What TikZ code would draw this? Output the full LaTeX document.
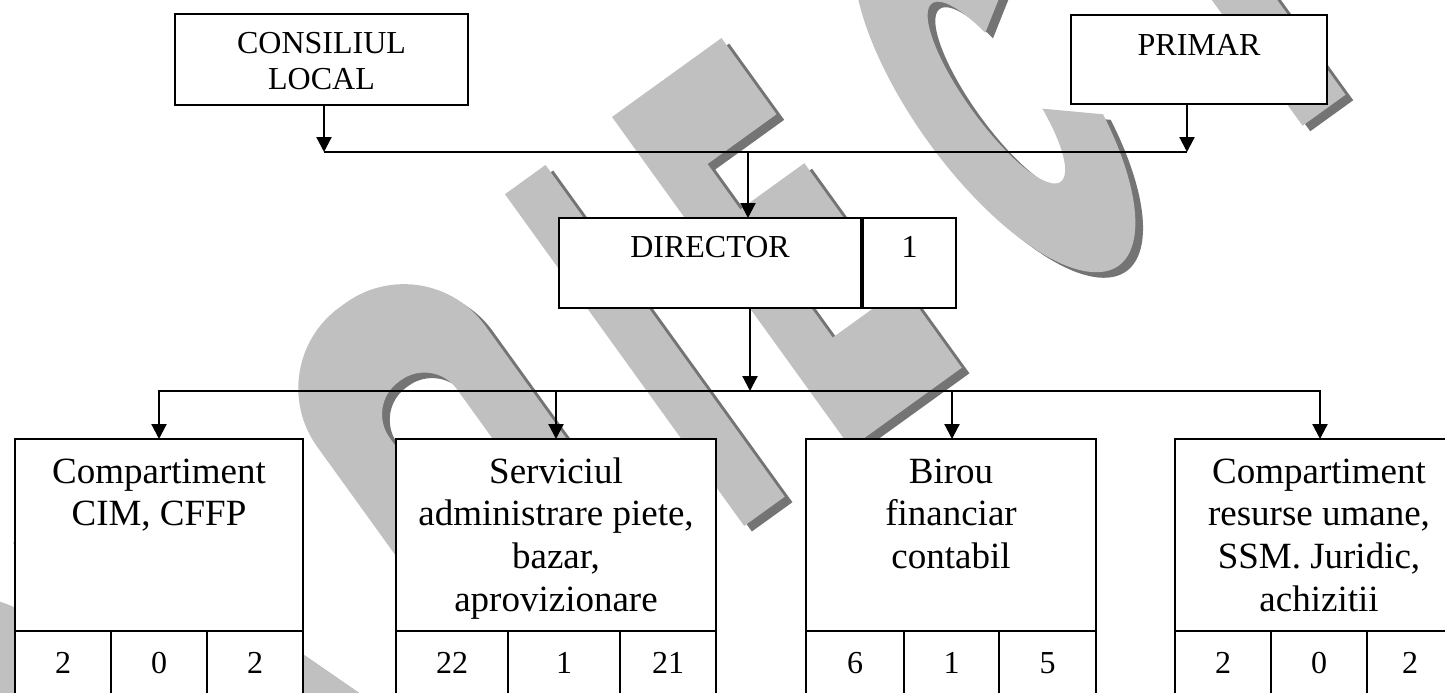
\documentclass[tikz,border=0pt]{standalone}
\usepackage{fontspec}
\setmainfont{Liberation Serif}
\usetikzlibrary{arrows.meta}
\definecolor{wmlight}{HTML}{C0C0C0}
\definecolor{wmdark}{HTML}{747474}
\newcommand\fsa{\fontsize{32}{36}\selectfont}
\newcommand\fsb{\fontsize{37}{42.7}\selectfont}
\newcommand\boxtext[2]{\parbox[t]{#1}{\centering #2}}
\newcommand\wmletters[1]{%
  \fill[#1] (-1010,-5) rectangle (-955,409);
  \fill[#1,even odd rule] [rounded corners=100pt] (-1010,-5) rectangle (-760,250) [rounded corners=30pt] (-955,88) rectangle (-840,160);
  \fill[#1] (-735,-5) rectangle (-680,409);
  \fill[#1,even odd rule] [rounded corners=90pt] (-735,-5) rectangle (-545,250) [rounded corners=30pt] (-680,88) rectangle (-600,160);
  \fill[#1] (-640,235) -- (-572,235) -- (-510,409) -- (-578,409) -- cycle;
  \fill[#1,even odd rule] [rounded corners=100pt] (-432,-5) rectangle (-225,413) [rounded corners=40pt] (-368,90) rectangle (-285,320);
  \fill[#1] (-132,0) rectangle (-82,409);
  \fill[#1] (0,0) -- (135,0) -- (135,94) -- (50,94) -- (50,150) -- (129,150) -- (129,245) -- (50,245) -- (50,308) -- (137,308) -- (137,408) -- (0,408) -- cycle;
  \fill[#1] (399.1,120.1) arc[start angle=-23.6,end angle=-337.8,x radius=82,y radius=212] -- (354,245) arc[start angle=21.3,end angle=330,x radius=30,y radius=110] -- cycle;
  \fill[#1] (470,-40) -- (700,-40) -- (700,92) -- (608,92) -- (608,411) -- (555,411) -- (555,92) -- (470,92) -- cycle;
}
\begin{document}
\begin{tikzpicture}[x=1pt,y=-1pt,
  box/.style={rectangle,draw=black,line width=2.2pt,fill=white,inner sep=0pt,outer sep=0pt},
  lbl/.style={inner sep=0pt,outer sep=0pt,anchor=base},
  link/.style={line width=2.2pt},
  arr/.style={line width=2.2pt,-{Triangle[width=15pt,length=15pt]}}]
\useasboundingbox (0,0) rectangle (1445,693);
\clip (0,0) rectangle (1445,693);
\fill[white] (0,0) rectangle (1445,693);
% watermark
\begin{scope}[shift={(612,117)},rotate=35.8]
  \begin{scope}[shift={(3,9)}]
    \wmletters{wmdark}
  \end{scope}
  \wmletters{wmlight}
\end{scope}
% top boxes
\node[box,minimum width=293pt,minimum height=91pt] (cl) at (321.5,59.5) {};
\node[lbl] (tcl) at (321.5,53) {\boxtext{300pt}{\fsa CONSILIUL\\LOCAL}};
\node[box,minimum width=256pt,minimum height=89pt] (pr) at (1199,59.5) {};
\node[lbl] (tpr) at (1199,56) {\fsa PRIMAR};
\node[box,minimum width=302pt,minimum height=90pt] (dir) at (710,263) {};
\node[lbl] (tdir) at (710,257) {\fsa DIRECTOR};
\node[box,minimum width=93pt,minimum height=90pt] (one) at (909.5,263) {};
\node[lbl] (tone) at (909.5,257) {\fsa 1};
% bottom boxes
\node[box,minimum width=288pt,minimum height=192pt] (b1) at (159,535) {};
\node[lbl] (t1) at (159,483) {\boxtext{400pt}{\fsb Compartiment\\CIM, CFFP}};
\node[box,minimum width=96pt,minimum height=89pt] (c1a) at (63,675.5) {};
\node[box,minimum width=96pt,minimum height=89pt] (c1b) at (159,675.5) {};
\node[box,minimum width=96pt,minimum height=89pt] (c1c) at (255,675.5) {};
\node[lbl] (n1a) at (63,673) {\fsa 2};
\node[lbl] (n1b) at (159,673) {\fsa 0};
\node[lbl] (n1c) at (255,673) {\fsa 2};

\node[box,minimum width=320pt,minimum height=192pt] (b2) at (556,535) {};
\node[lbl] (t2) at (556,483) {\boxtext{400pt}{\fsb Serviciul\\administrare piete,\\bazar,\\aprovizionare}};
\node[box,minimum width=112pt,minimum height=89pt] (c2a) at (452,675.5) {};
\node[box,minimum width=112pt,minimum height=89pt] (c2b) at (564,675.5) {};
\node[box,minimum width=96pt,minimum height=89pt] (c2c) at (668,675.5) {};
\node[lbl] (n2a) at (452,673) {\fsa 22};
\node[lbl] (n2b) at (564,673) {\fsa 1};
\node[lbl] (n2c) at (668,673) {\fsa 21};

\node[box,minimum width=290pt,minimum height=192pt] (b3) at (951,535) {};
\node[lbl] (t3) at (951,483) {\boxtext{400pt}{\fsb Birou\\financiar\\contabil}};
\node[box,minimum width=98pt,minimum height=89pt] (c3a) at (855,675.5) {};
\node[box,minimum width=95pt,minimum height=89pt] (c3b) at (951.5,675.5) {};
\node[box,minimum width=97pt,minimum height=89pt] (c3c) at (1047.5,675.5) {};
\node[lbl] (n3a) at (855,673) {\fsa 6};
\node[lbl] (n3b) at (951.5,673) {\fsa 1};
\node[lbl] (n3c) at (1047.5,673) {\fsa 5};

\node[box,minimum width=288pt,minimum height=192pt] (b4) at (1319,535) {};
\node[lbl] (t4) at (1319,483) {\boxtext{400pt}{\fsb Compartiment\\resurse umane,\\SSM. Juridic,\\achizitii}};
\node[box,minimum width=96pt,minimum height=89pt] (c4a) at (1223,675.5) {};
\node[box,minimum width=96pt,minimum height=89pt] (c4b) at (1319,675.5) {};
\node[box,minimum width=96pt,minimum height=89pt] (c4c) at (1415,675.5) {};
\node[lbl] (n4a) at (1223,673) {\fsa 2};
\node[lbl] (n4b) at (1319,673) {\fsa 0};
\node[lbl] (n4c) at (1410,673) {\fsa 2};
% connectors
\coordinate (jl) at (324,152);
\coordinate (jr) at (1187,152);
\coordinate (jm) at (748,152);
\coordinate (jb) at (750,391);
\coordinate (k1) at (159,391);
\coordinate (k2) at (556,391);
\coordinate (k3) at (952,391);
\coordinate (k4) at (1320,391);
\draw[arr] (cl.south -| jl) -- (jl);
\draw[arr] (pr.south -| jr) -- (jr);
\draw[link] (jl) -- (jr);
\draw[arr] (jm) -- (jm |- dir.north);
\draw[arr] (dir.south -| jb) -- (jb);
\draw[link] ([xshift=-1.5pt]k1) -- ([xshift=1pt]k4);
\draw[arr] (k1) -- (k1 |- b1.north);
\draw[arr] (k2) -- (k2 |- b2.north);
\draw[arr] (k3) -- (k3 |- b3.north);
\draw[arr] (k4) -- (k4 |- b4.north);
\end{tikzpicture}
\end{document}
